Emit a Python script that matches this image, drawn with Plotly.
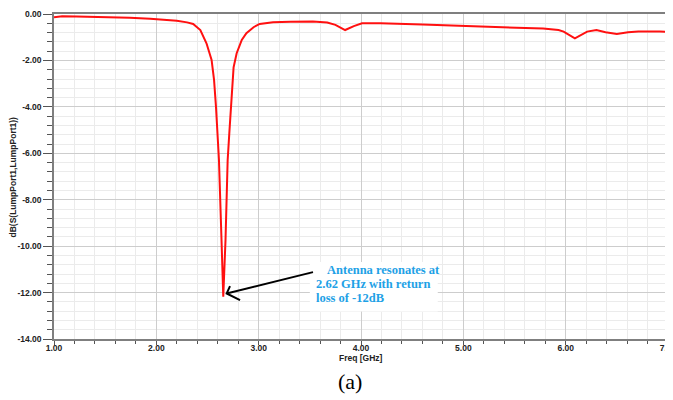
import plotly.graph_objects as go

# Frequency (GHz) and return loss dB(S11)
freq_ghz = [1.00, 1.08, 1.22, 1.61, 1.74, 1.94, 2.07, 2.20, 2.30, 2.36, 2.43, 2.49,
            2.54, 2.564, 2.583, 2.596, 2.612, 2.637, 2.654, 2.676, 2.697, 2.713,
            2.727, 2.742, 2.755, 2.785, 2.835, 2.88, 2.95, 3.01, 3.14, 3.31, 3.53,
            3.67, 3.75, 3.845, 3.93, 4.01, 4.19, 4.60, 5.00, 5.26, 5.52, 5.78,
            5.93, 5.98, 6.09, 6.21, 6.30, 6.39, 6.50, 6.61, 6.71, 6.92, 7.00]
s11_db = [-0.14, -0.10, -0.11, -0.13, -0.16, -0.20, -0.24, -0.29, -0.36, -0.43,
          -0.69, -1.26, -1.98, -2.84, -4.00, -5.14, -6.29, -9.74, -12.18, -9.74,
          -6.29, -5.14, -4.00, -2.84, -2.30, -1.69, -1.12, -0.83, -0.57, -0.43,
          -0.36, -0.33, -0.32, -0.37, -0.47, -0.69, -0.52, -0.40, -0.40, -0.45,
          -0.52, -0.55, -0.59, -0.62, -0.69, -0.76, -1.05, -0.76, -0.69, -0.79,
          -0.86, -0.79, -0.75, -0.75, -0.78]

x_tick_vals = [1, 2, 3, 4, 5, 6, 7]
x_tick_text = ["1.00", "2.00", "3.00", "4.00", "5.00", "6.00", "7.00"]
y_tick_vals = [0, -2, -4, -6, -8, -10, -12, -14]
y_tick_text = ["0.00", "-2.00", "-4.00", "-6.00", "-8.00", "-10.00", "-12.00", "-14.00"]

y_title = "dB(S(LumpPort1,LumpPort1))"
x_title = "Freq [GHz]"
note_lines = ["Antenna resonates at", "2.62 GHz with return", "loss of -12dB"]
caption = "(a)"

# annotation geometry (data units)
arrow_tail = (3.531, -11.12)
arrow_tip = (2.687, -12.04)
arrow_arm1 = (2.72, -11.72)
arrow_arm2 = (2.818, -12.33)
note_x = [3.645, 3.545, 3.545]
note_y = [-11.03, -11.63, -12.23]
note_box = (3.50, -10.68, 4.75, -12.82)

tick_font = dict(family="Liberation Sans, Arial", size=8.5, color="#222222", weight="bold")

fig = go.Figure()
fig.add_trace(go.Scatter(x=freq_ghz, y=s11_db, mode="lines",
                         line=dict(color="#ff1010", width=2), hoverinfo="skip",
                         showlegend=False, cliponaxis=True))

axis_common = dict(showline=True, linecolor="#7f7f7f", linewidth=1.5, mirror=True,
                   ticks="outside", tickcolor="#555555", tickfont=tick_font,
                   showgrid=True, gridcolor="#cdcdcd", gridwidth=1, zeroline=False,
                   automargin=False, ticklabeloverflow="allow")

fig.update_xaxes(range=[1, 7], tickmode="array", tickvals=x_tick_vals, ticktext=x_tick_text,
                 ticklen=4, ticklabelstandoff=-4,
                 minor=dict(dtick=0.2, tick0=1, ticks="outside", ticklen=3,
                            tickcolor="#555555", showgrid=True, gridcolor="#ebebeb"),
                 **axis_common)
fig.update_yaxes(range=[-14, 0], tickmode="array", tickvals=y_tick_vals, ticktext=y_tick_text,
                 ticklen=9, minor=dict(dtick=0.4, tick0=0, ticks="outside", ticklen=5,
                                       tickcolor="#555555", showgrid=True, gridcolor="#ebebeb"),
                 **axis_common)

# white box behind the note
fig.add_shape(type="rect", x0=note_box[0], y0=note_box[1], x1=note_box[2], y1=note_box[3],
              xref="x", yref="y", fillcolor="#ffffff", line=dict(width=0), layer="above")

fig.add_shape(type="path",
              path=(f"M {arrow_tail[0]},{arrow_tail[1]} L {arrow_tip[0]},{arrow_tip[1]} "
                    f"M {arrow_arm1[0]},{arrow_arm1[1]} L {arrow_tip[0]},{arrow_tip[1]} "
                    f"L {arrow_arm2[0]},{arrow_arm2[1]}"),
              xref="x", yref="y", line=dict(color="#000000", width=2))

for tx, ty, line in zip(note_x, note_y, note_lines):
    fig.add_annotation(x=tx, y=ty, xref="x", yref="y", text=line,
                       showarrow=False, xanchor="left", yanchor="middle", align="left",
                       font=dict(family="Liberation Serif, Times New Roman", size=12.5,
                                 color="#1ea1e6", weight="bold"))

fig.add_annotation(x=-0.0668, y=0.5, xref="paper", yref="paper", text=y_title,
                   textangle=-90, showarrow=False, xanchor="center", yanchor="middle",
                   font=dict(family="Liberation Sans, Arial", size=8.5, color="#222222",
                             weight="bold"))
fig.add_annotation(x=0.5, y=-0.057, xref="paper", yref="paper", text=x_title,
                   showarrow=False, xanchor="center", yanchor="middle",
                   font=dict(family="Liberation Sans, Arial", size=8.5, color="#222222",
                             weight="bold"))
fig.add_annotation(x=0.482, y=-0.132, xref="paper", yref="paper", text=caption,
                   showarrow=False, xanchor="center", yanchor="middle",
                   font=dict(family="Liberation Serif, Times New Roman", size=22,
                             color="#000000"))

# the page body adds an 8px margin, so the figure is sized/offset to compensate
fig.update_layout(width=665, height=392, margin=dict(l=46, r=5, t=6, b=61, autoexpand=False),
                  paper_bgcolor="#ffffff", plot_bgcolor="#ffffff")

fig.write_html("out.html")
